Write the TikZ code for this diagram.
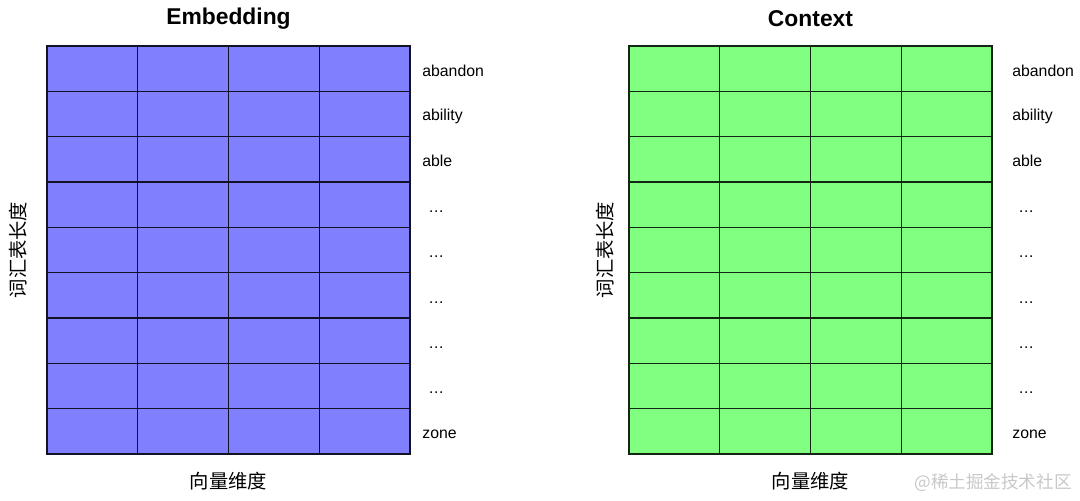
\documentclass[tikz,border=0pt]{standalone}
\usepackage{fontspec}
\setmainfont{Liberation Sans}
\newfontfamily\cjk{Noto Sans CJK SC}
\usetikzlibrary{positioning}
\definecolor{embfill}{HTML}{8080FF}
\definecolor{ctxfill}{HTML}{80FF80}
\definecolor{wmgray}{HTML}{C8C8C8}
\tikzset{cell/.style={rectangle,line width=.7pt,minimum width=1.815cm,minimum height=.9067cm,inner sep=0pt,outer sep=0pt},
  word/.style={font=\fontsize{9}{10}\selectfont,anchor=west,inner sep=0pt},
  title/.style={font=\fontsize{13}{15}\selectfont\bfseries},
  axis/.style={font=\fontsize{11}{12}\selectfont\cjk,inner sep=0pt}}

\begin{document}
\begin{tikzpicture}[x=0.02cm,y=-0.02cm]
\useasboundingbox (0,0) rectangle (1080,501);
\foreach \pre/\ox/\fc/\ttl/\gap/\lx in {emb/47/embfill/Embedding/0/29,ctx/629/ctxfill/Context/8/24}{
  \foreach \r in {1,...,9}{
    \foreach \c in {1,...,4}{
      \node[cell,fill=\fc,draw=\fc!15!black] (\pre-\r-\c) at ({\ox+90.75*(\c-.5)},{46+45.333*(\r-.5)}) {};
    }
  }
  \foreach \r/\w/\dx/\dy in {1/abandon/12/2,2/ability/12/2,3/able/12/2,4/\dots/18/7,5/\dots/18/7,6/\dots/18/7,7/\dots/18/7,8/\dots/18/7,9/zone/12/3}{
    \node[word,right=(\dx+\gap)*0.02cm of \pre-\r-4.east,yshift=-\dy*0.02cm] (\pre-w\r) {\w};
  }
  \node[title] (\pre-title) at ({\ox+181.5},19) {\ttl};
  \node[axis,rotate=90] (\pre-rows) at ({\ox-\lx},250) {词汇表长度};
  \node[axis] (\pre-cols) at ({\ox+181.5},481) {向量维度};
}
\node[font=\fontsize{10}{12}\selectfont\cjk,text=wmgray,inner sep=0pt] (mark) at (993,483) {@稀土掘金技术社区};
\end{tikzpicture}
\end{document}
